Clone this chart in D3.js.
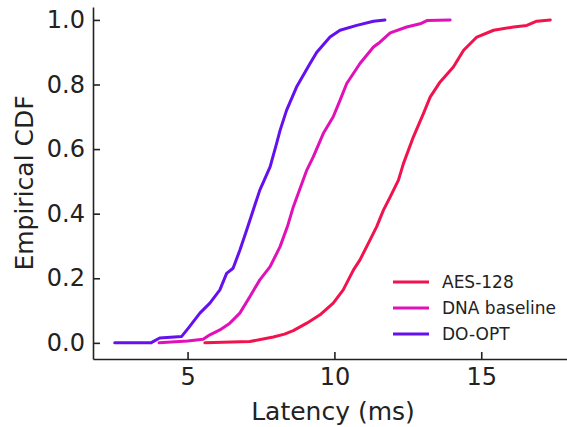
<!DOCTYPE html>
<html>
<head>
<meta charset="utf-8">
<script src="https://cdn.jsdelivr.net/npm/d3@7"></script>
<style>
  body { margin: 0; background: #fff; }
  svg { display: block; font-family: 'DejaVu Sans', sans-serif; }
  .axis path, .axis line { stroke: #222; stroke-width: 1.6; }
  .axis text { font-size: 24px; fill: #222; font-family: 'DejaVu Sans', sans-serif; }
</style>
</head>
<body>
<script>
   // canvas
   let width = 567;
   let height = 427;

   // series names / colours
   let seriesNames = ['AES-128', 'DNA baseline', 'DO-OPT'];
   let seriesColors = ['#f0134d', '#e011b8', '#6410ef'];

   // ECDF knots: latency (ms), cumulative fraction
   let aesLatency = [5.59, 7.12, 7.92, 8.3, 8.6, 9.06, 9.51, 9.96, 10.3, 10.65, 10.87, 11.21, 11.44, 11.67, 11.9, 12.18, 12.35, 12.69, 13.03, 13.26, 13.6, 14.05, 14.4, 14.85, 15.42, 16.1, 16.55, 16.89, 17.35];
   let aesCdf     = [0.0, 0.004, 0.018, 0.027, 0.038, 0.061, 0.087, 0.123, 0.164, 0.226, 0.257, 0.318, 0.36, 0.411, 0.452, 0.504, 0.555, 0.638, 0.71, 0.761, 0.808, 0.854, 0.906, 0.947, 0.968, 0.978, 0.983, 0.996, 1.0];

   let dnaLatency = [4.03, 5.0, 5.53, 5.76, 6.1, 6.44, 6.78, 7.12, 7.46, 7.81, 8.15, 8.4, 8.6, 9.06, 9.28, 9.62, 9.96, 10.19, 10.42, 10.87, 11.33, 11.55, 11.9, 12.46, 12.92, 13.15, 13.94];
   let dnaCdf     = [0.0, 0.006, 0.011, 0.025, 0.04, 0.061, 0.092, 0.143, 0.195, 0.236, 0.298, 0.36, 0.421, 0.535, 0.576, 0.648, 0.70, 0.751, 0.803, 0.865, 0.916, 0.931, 0.96, 0.978, 0.988, 0.998, 1.0];

   let doLatency = [2.52, 3.75, 4.05, 4.8, 5.02, 5.42, 5.76, 6.1, 6.33, 6.55, 6.78, 7.01, 7.46, 7.81, 8.03, 8.15, 8.37, 8.71, 9.17, 9.4, 9.85, 10.19, 10.76, 11.33, 11.72];
   let doCdf     = [0.0, 0.0, 0.015, 0.02, 0.045, 0.092, 0.123, 0.164, 0.215, 0.231, 0.287, 0.349, 0.473, 0.545, 0.617, 0.658, 0.72, 0.792, 0.865, 0.90, 0.947, 0.968, 0.983, 0.996, 1.0];

   let xTicks = [5, 10, 15];
   let yTicks = [0, 0.2, 0.4, 0.6, 0.8, 1.0];

   let svg = d3.select('body').append('svg')
      .attr('width', width)
      .attr('height', height);

   let xScale = d3.scaleLinear().domain([1.78, 18.09]).range([93, 572]);
   let yScale = d3.scaleLinear().domain([-0.05, 1.04]).range([359, 7]);

   let series = [
      { name: seriesNames[0], color: seriesColors[0], x: aesLatency, y: aesCdf },
      { name: seriesNames[1], color: seriesColors[1], x: dnaLatency, y: dnaCdf },
      { name: seriesNames[2], color: seriesColors[2], x: doLatency, y: doCdf }
   ];

   let line = d3.line()
      .x((d) => xScale(d[0]))
      .y((d) => yScale(d[1]));

   // curves
   svg.append('g').selectAll('path')
      .data(series)
      .enter()
      .append('path')
      .attr('fill', 'none')
      .attr('stroke', (s) => s.color)
      .attr('stroke-width', 3)
      .attr('stroke-linejoin', 'round')
      .attr('stroke-linecap', 'round')
      .attr('d', (s) => line(s.x.map((v, i) => [v, s.y[i]])));

   // axes (ticks pointing inward)
   svg.append('g')
      .attr('class', 'axis')
      .attr('transform', 'translate(0, ' + yScale.range()[0] + ')')
      .call(d3.axisBottom(xScale).tickValues(xTicks).tickSizeInner(-7).tickSizeOuter(0).tickPadding(9));

   svg.append('g')
      .attr('class', 'axis')
      .attr('transform', 'translate(' + xScale.range()[0] + ', 0)')
      .call(d3.axisLeft(yScale).tickValues(yTicks).tickFormat(d3.format('.1f')).tickSizeInner(-7).tickSizeOuter(0).tickPadding(8));

   // axis captions
   svg.append('text')
      .attr('x', 333)
      .attr('y', 420)
      .attr('text-anchor', 'middle')
      .style('font-size', '25px')
      .attr('fill', '#222')
      .text('Latency (ms)');

   svg.append('text')
      .attr('transform', 'rotate(-90)')
      .attr('x', -183)
      .attr('y', 33)
      .attr('text-anchor', 'middle')
      .style('font-size', '25px')
      .attr('fill', '#222')
      .text('Empirical CDF');

   // legend
   let legend = svg.append('g').attr('transform', 'translate(393, 282)');
   let rows = legend.selectAll('g')
      .data(series)
      .enter()
      .append('g')
      .attr('transform', (s, i) => 'translate(0, ' + (i * 26) + ')');
   rows.append('line')
      .attr('x1', 0).attr('x2', 36)
      .attr('stroke', (s) => s.color)
      .attr('stroke-width', 3);
   rows.append('text')
      .attr('x', 49)
      .attr('dy', '0.36em')
      .style('font-size', '17px')
      .attr('fill', '#222')
      .text((s) => s.name);
</script>
</body>
</html>
